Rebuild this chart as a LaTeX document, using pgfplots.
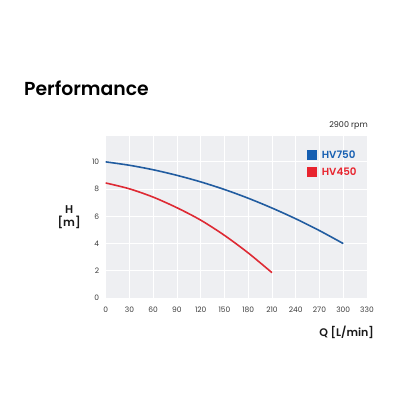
\documentclass[border=0pt]{standalone}
\usepackage{fontspec}
\setmainfont{Poppins}
\newfontfamily\medfont{Poppins Medium}
\newfontfamily\semifont{Poppins SemiBold}
\usepackage{pgfplots}
\pgfplotsset{compat=1.18}

\definecolor{hvblue}{RGB}{33,92,160}
\definecolor{hvred}{RGB}{222,42,52}
\definecolor{legblue}{RGB}{22,95,178}
\definecolor{legred}{RGB}{232,36,46}
\definecolor{bggray}{RGB}{238,239,242}
\definecolor{ticktext}{RGB}{60,60,60}

\begin{document}
\begin{tikzpicture}[x=1pt,y=1pt]
\useasboundingbox (-105.7,-118) rectangle (310.3,298);
\begin{axis}[
  at={(0,0)}, anchor=south west,
  scale only axis,
  width=261.3pt, height=162pt,
  xmin=0, xmax=330, ymin=0, ymax=11.9,
  xtick={0,30,...,330},
  ytick={0,2,...,10},
  axis line style={draw=none},
  major tick length=0pt,
  grid=major,
  major grid style={white, line width=0.9pt},
  axis background/.style={fill=bggray},
  /pgf/number format/assume math mode=true,
  ticklabel style={font=\fontsize{7.5}{8}\selectfont, text=ticktext},
  yticklabel style={xshift=-3pt},
  xticklabel style={yshift=-5pt},
  xlabel={Q [L/min]},
  ylabel={\semifont\fontsize{11.3}{12.5}\selectfont\shortstack{H\\{[m]}}},
  xlabel style={font=\semifont\fontsize{11}{12}\selectfont, at={(axis description cs:1.04,-0.21)}, anchor=east, text=black!90},
  ylabel style={rotate=-90, at={(axis description cs:-0.14,0.5)}, anchor=center, text=black!90},
  legend style={at={(0.769,0.924)}, anchor=north west, draw=none, fill=none, inner sep=0pt, row sep=4pt,
    font=\semifont\fontsize{10.3}{11}\selectfont},
  legend cell align=left,
  legend image code/.code={\fill[#1, draw=none] (0pt,-5pt) rectangle (10pt,5pt);},
]
\addplot[hvblue, line width=1.6pt, smooth, forget plot] coordinates {
(0,10) (30,9.75) (60,9.42) (90,9.01) (120,8.53) (150,7.97) (180,7.33) (210,6.61) (240,5.82) (270,4.95) (300,4.0)
};
\addplot[hvred, line width=1.6pt, smooth, forget plot] coordinates {
(0,8.45) (30,8.02) (60,7.41) (90,6.63) (120,5.72) (150,4.6) (180,3.31) (210,1.86)
};
\addlegendimage{legblue}
\addlegendentry{\hspace{3pt}\textcolor{legblue}{HV750}}
\addlegendimage{legred}
\addlegendentry{\hspace{3pt}\textcolor{legred}{HV450}}
\end{axis}
\node[anchor=base west, font=\semifont\fontsize{18.8}{21}\selectfont, inner sep=0pt] at (-81.7,203) {Performance};
\node[anchor=east, font=\fontsize{8}{9}\selectfont, inner sep=0pt, text=black!85] at (262.3,172) {2900 rpm};
\end{tikzpicture}
\end{document}
